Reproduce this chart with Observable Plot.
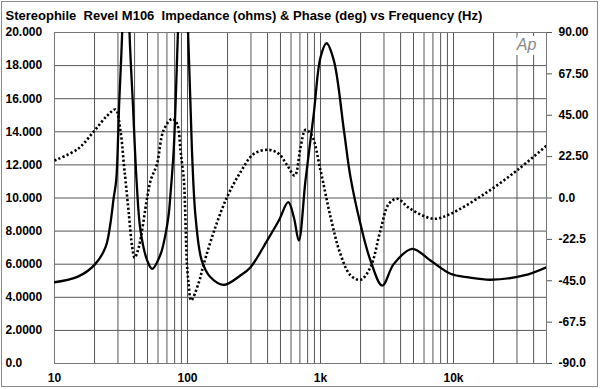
<!DOCTYPE html>
<html><head><meta charset="utf-8">
<script src="https://cdn.jsdelivr.net/npm/d3@7"></script>
<script src="https://cdn.jsdelivr.net/npm/@observablehq/plot@0.6"></script>
<style>
html,body{margin:0;padding:0;background:#fff;}
#wrap{position:relative;width:600px;height:389px;overflow:hidden;}
#border{position:absolute;left:1px;top:1px;width:597px;height:386px;border:1px solid #8a8a8a;box-sizing:border-box;pointer-events:none;}
svg text{white-space:pre;}
</style></head><body>
<div id="wrap"><div id="border"></div></div>
<script>
const title = "Stereophile  Revel M106  Impedance (ohms) & Phase (deg) vs Frequency (Hz)";

// Impedance magnitude (ohms)
const freqImp = [10, 15, 20, 24.2, 26.3, 27.9, 29.1, 30.6, 32.3, 34.5, 36.6, 38.9, 41.4, 44.3, 49.8, 54.3, 62.7, 68.4, 72.3, 74.5, 78.7, 84.8, 91.7, 100.9, 108, 115, 128, 149, 187.5, 250, 298, 397, 486, 572, 630, 687, 771, 890, 1000, 1110, 1260, 1500, 1680, 2000, 2376, 2910, 3560, 4890, 6710, 9490, 13000, 18980, 33800, 50000];
const impedance = [4.91, 5.25, 5.96, 7.03, 8.44, 10.05, 11.06, 15.6, 20.1, 30, 20.1, 15.6, 11.06, 8.04, 6.22, 5.72, 6.6, 7.83, 9.04, 10.25, 12.87, 20.1, 28, 20.1, 12.87, 8.84, 6.22, 5.21, 4.75, 5.32, 5.82, 7.43, 8.64, 9.75, 8.84, 7.43, 11.06, 15.1, 18.5, 19.35, 18.3, 14.08, 11.26, 8.4, 6.22, 4.71, 6.02, 6.93, 6.22, 5.42, 5.2, 5.06, 5.32, 5.82];

// Phase (degrees)
const freqPhase = [10, 15, 20, 25, 28.7, 31.3, 33.2, 34.2, 36.2, 38.4, 40, 43, 49.8, 52.8, 59, 66, 76.7, 83.5, 88.6, 91, 94, 99, 102, 106.5, 121.5, 132.6, 160, 198, 250, 315, 408, 486, 560, 640, 708, 771, 860, 1000, 1190, 1410, 1680, 2000, 2376, 2820, 3260, 3770, 4730, 7090, 9490, 16900, 30000, 50000];
const phase = [20.4, 26.7, 36.7, 44.9, 48.1, 36.7, 18.6, 9.5, -8.6, -26.8, -32.5, -26.8, 0.4, 9.5, 18.6, 36.7, 43.1, 40.3, 25.8, 18.6, 9.5, -35.8, -46.7, -55.7, -46, -35.8, -17, 0.4, 14, 24, 26.2, 24, 18, 12.2, 27.6, 37.1, 34, 15, -10.4, -30.4, -42, -44.5, -37.6, -17.7, -3.2, -0.44, -5.9, -11.3, -8.6, 2.0, 15, 28.5];

// Axes
const impTicks = [0, 2, 4, 6, 8, 10, 12, 14, 16, 18, 20];
const impLabels = ["0.0", "2.0000", "4.0000", "6.0000", "8.0000", "10.000", "12.000", "14.000", "16.000", "18.000", "20.000"];
const phaseTicks = [-90, -67.5, -45, -22.5, 0, 22.5, 45, 67.5, 90];
const phaseLabels = ["-90.0", "-67.5", "-45.0", "-22.5", "0.0", "22.50", "45.00", "67.50", "90.00"];
const xTicks = [10, 100, 1000, 10000, 50000];
const xLabels = ["10", "100", "1k", "10k", "50k"];
const gridFreqs = [20,30,40,50,60,70,80,90,100,200,300,400,500,600,700,800,900,1000,2000,3000,4000,5000,6000,7000,8000,9000,10000,20000,30000,40000];

const toZ = p => (p + 90) / 9;
const impData = freqImp.map((f, i) => ({f, z: impedance[i]}));
const phData = freqPhase.map((f, i) => ({f, z: toZ(phase[i])}));
const rightTicks = phaseTicks.map(toZ);

const chart = Plot.plot({
  width: 600, height: 389,
  marginLeft: 54, marginRight: 54, marginTop: 32, marginBottom: 26,
  x: {type: "log", domain: [10, 50000], label: null},
  y: {domain: [0, 20], label: null},
  style: {fontFamily: "'Liberation Sans', Arial, sans-serif", fontSize: "12px", fontWeight: "bold", color: "#000", background: "#fff"},
  marks: [
    Plot.ruleX(gridFreqs, {stroke: "#555", strokeWidth: 1}),
    Plot.ruleY(impTicks.slice(1, -1), {stroke: "#555", strokeWidth: 1}),
    Plot.frame({stroke: "#777"}),
    Plot.text(["Ap"], {frameAnchor: "top-right", dx: -20, dy: 12, textAnchor: "middle", lineAnchor: "middle", fontStyle: "italic", fontWeight: "normal", fontSize: 16, fill: "#888", stroke: "white", strokeWidth: 10, paintOrder: "stroke"}),
    Plot.line(phData, {x: "f", y: "z", curve: "catmull-rom", stroke: "#000", strokeWidth: 2.6, strokeDasharray: "2.2 2.2", strokeLinecap: "butt", clip: true}),
    Plot.line(impData, {x: "f", y: "z", curve: "catmull-rom", stroke: "#000", strokeWidth: 2.3, clip: true}),
    Plot.axisX({ticks: xTicks, tickFormat: d => xLabels[xTicks.indexOf(d)], tickSize: 0, tickPadding: 10, fontSize: 12}),
    Plot.axisY({anchor: "left", ticks: impTicks, tickFormat: d => impLabels[impTicks.indexOf(d)], tickSize: 0, tickPadding: 0, textAnchor: "start", dx: -49, fontSize: 12}),
    Plot.axisY({anchor: "right", ticks: rightTicks, tickFormat: d => phaseLabels[rightTicks.indexOf(d)], tickSize: 5, tickPadding: 7, stroke: "#555", fontSize: 12}),
    Plot.text([title], {frameAnchor: "top-left", dx: -49, dy: -17, textAnchor: "start", lineAnchor: "middle", fontSize: 13, fontWeight: "bold"})
  ]
});
document.getElementById("wrap").prepend(chart);
</script>
</body></html>
